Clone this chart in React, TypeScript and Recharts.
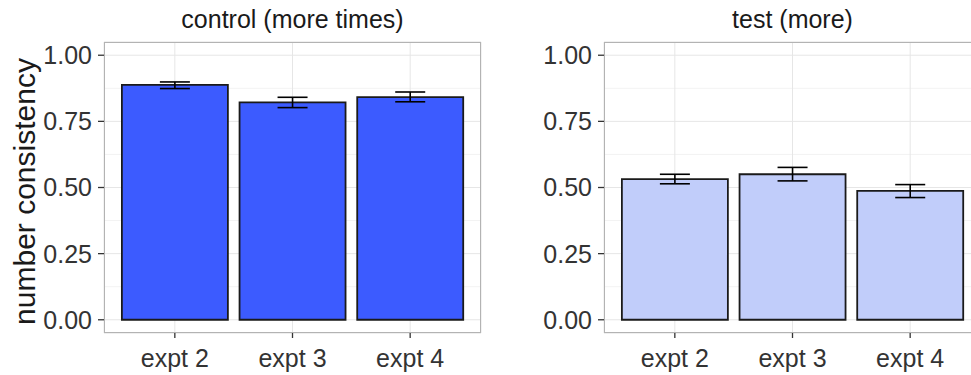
import { Bar, BarChart, CartesianGrid, ErrorBar, XAxis, YAxis } from 'recharts';

const categories = ['expt 2', 'expt 3', 'expt 4'];

const controlMean = [0.888, 0.822, 0.842];
const controlLow = [0.874, 0.802, 0.824];
const controlHigh = [0.899, 0.841, 0.861];

const testMean = [0.532, 0.55, 0.487];
const testLow = [0.514, 0.525, 0.462];
const testHigh = [0.55, 0.576, 0.511];

const majorTicks = [0, 0.25, 0.5, 0.75, 1];
const minorTicks = [0.125, 0.375, 0.625, 0.875];

const build = (mean, low, high) =>
  categories.map((name, i) => ({
    name,
    value: mean[i],
    err: [mean[i] - low[i], high[i] - mean[i]],
  }));

const controlData = build(controlMean, controlLow, controlHigh);
const testData = build(testMean, testLow, testHigh);

const FONT = '"Liberation Sans", Arial, Helvetica, sans-serif';
const TEXT = '#333333';

// rotated y title, placed against the left edge of the axis area
const yTitle = (text) => ({ viewBox }) => {
  const x = viewBox.x + 35;
  const y = viewBox.y + viewBox.height / 2 + 4;
  return (
    <text x={x} y={y} transform={`rotate(-90 ${x} ${y})`} textAnchor="middle" fontSize={30} fill="#1a1a1a">
      {text}
    </text>
  );
};

const Panel = ({ data, fill, title, left, yLabel }) => (
  <div style={{ position: 'absolute', left, top: 0, width: 490, height: 375 }}>
    <div
      style={{
        position: 'absolute',
        left: 104,
        top: 7,
        width: 377,
        textAlign: 'center',
        fontSize: 25,
        lineHeight: '25px',
        color: '#1a1a1a',
        whiteSpace: 'nowrap',
      }}
    >
      {title}
    </div>
    <BarChart
      width={490}
      height={375}
      data={data}
      margin={{ top: 42, right: 9, left: 0, bottom: 0 }}
      barCategoryGap="5%"
    >
      <CartesianGrid yAxisId="minor" vertical={false} stroke="#f3f3f3" strokeWidth={1} />
      <CartesianGrid stroke="#e6e6e6" strokeWidth={1} />
      <XAxis
        dataKey="name"
        height={42}
        padding={{ left: 12, right: 12 }}
        tickSize={5}
        tickMargin={11}
        axisLine={false}
        tickLine={{ stroke: TEXT, strokeWidth: 1.3 }}
        tick={{ fontSize: 25, fill: TEXT }}
      />
      <YAxis
        width={104}
        type="number"
        domain={[-0.05, 1.05]}
        allowDataOverflow
        ticks={majorTicks}
        tickFormatter={(v) => v.toFixed(2)}
        tickSize={6}
        tickMargin={6}
        axisLine={false}
        tickLine={{ stroke: TEXT, strokeWidth: 1.3 }}
        tick={{ fontSize: 25, fill: TEXT }}
        label={yLabel ? { content: yTitle(yLabel) } : undefined}
      />
      <YAxis
        yAxisId="minor"
        hide
        width={0}
        type="number"
        domain={[-0.05, 1.05]}
        allowDataOverflow
        ticks={minorTicks}
      />
      <Bar dataKey="value" fill={fill} stroke="#1a1a1a" strokeWidth={1.8} isAnimationActive={false}>
        <ErrorBar dataKey="err" width={15} stroke="#000" strokeWidth={1.6} />
      </Bar>
    </BarChart>
    <div
      style={{
        position: 'absolute',
        left: 104,
        top: 42,
        width: 377,
        height: 291,
        boxSizing: 'border-box',
        border: '1px solid #b3b3b3',
        pointerEvents: 'none',
      }}
    />
  </div>
);

export default function App() {
  return (
    <div
      style={{
        position: 'absolute',
        left: 0,
        top: 0,
        width: 971,
        height: 375,
        overflow: 'hidden',
        background: '#fff',
        fontFamily: FONT,
      }}
    >
      <Panel data={controlData} fill="#3c5bff" title="control (more times)" left={0} yLabel="number consistency" />
      <Panel data={testData} fill="#c1cdfa" title="test (more)" left={500} />
    </div>
  );
}
